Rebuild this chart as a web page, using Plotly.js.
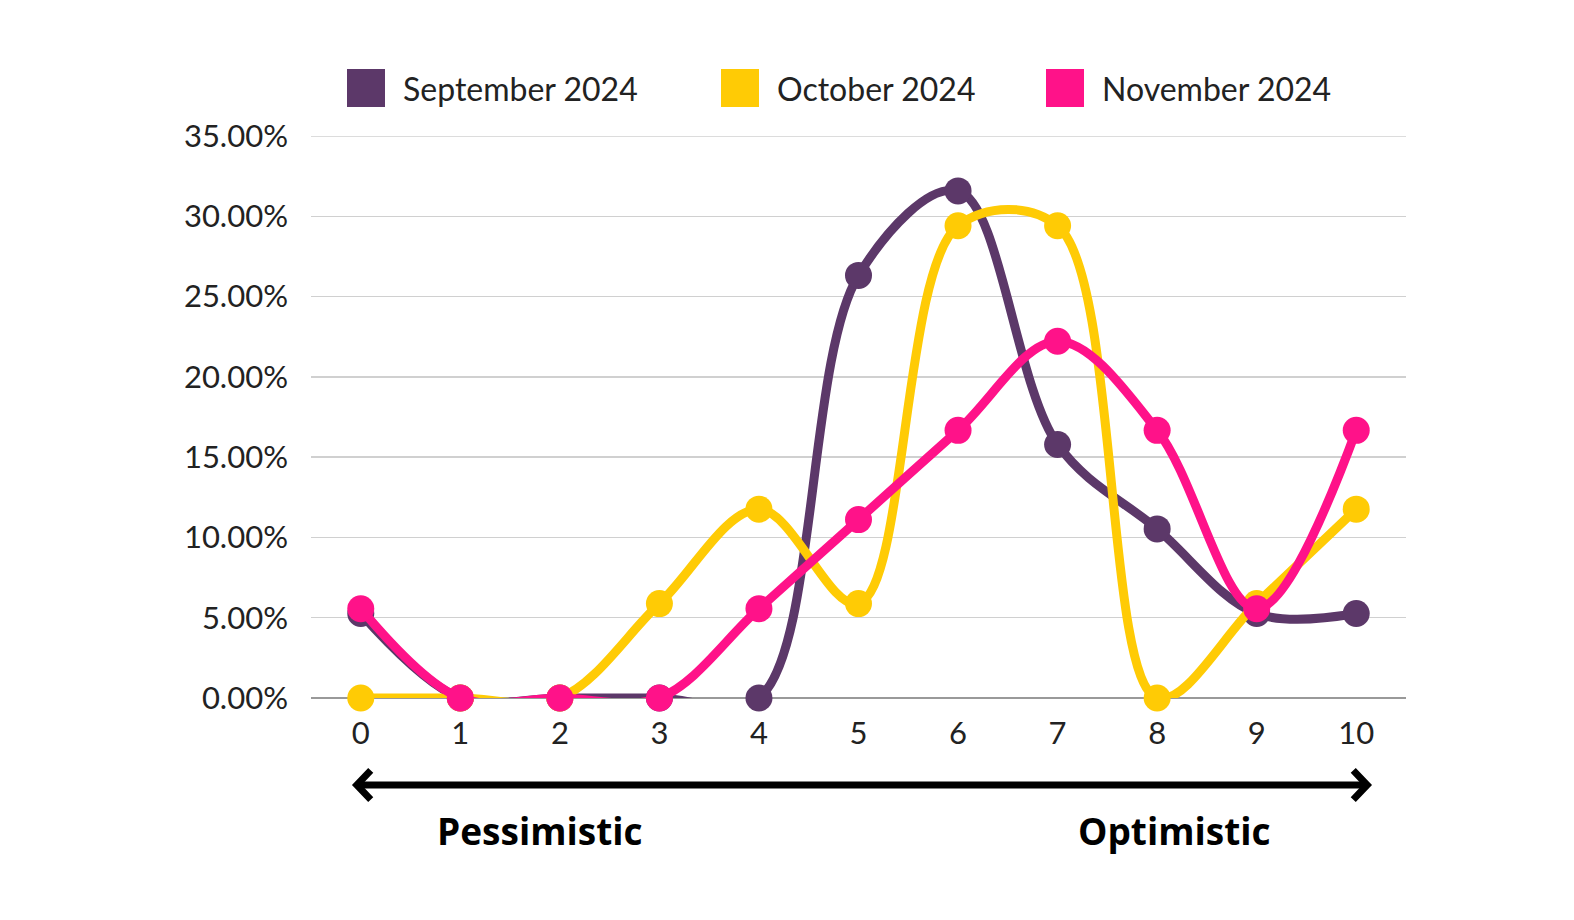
<html>
<head>
    <meta charset="UTF-8">
    <script src="https://cdn.plot.ly/plotly-3.0.1.min.js"></script>
    <style>
        html, body { margin: 0; padding: 0; overflow: hidden; background: #fff; }
        #plot { width: 1574px; height: 920px; }
    </style>
</head>
<body>
    <div id="plot"></div>
    <script>
        // scale 0 (pessimistic) .. 10 (optimistic), share of answers in %
        const scores = [0, 1, 2, 3, 4, 5, 6, 7, 8, 9, 10];
        const september = [5.26, 0, 0, 0, 0, 26.32, 31.58, 15.79, 10.53, 5.26, 5.26];
        const october = [0, 0, 0, 5.88, 11.76, 5.88, 29.41, 29.41, 0, 5.88, 11.76];
        const november = [5.56, 0, 0, 0, 5.56, 11.11, 16.67, 22.22, 16.67, 5.56, 16.67];

        const seriesNames = ['September 2024', 'October 2024', 'November 2024'];
        const seriesColors = ['#5c3869', '#ffcb05', '#ff1289'];
        const yTicks = [0, 5, 10, 15, 20, 25, 30, 35];

        const font = 'Lato, "Noto Sans", sans-serif';

        function trace(y, i) {
            return {
                x: scores,
                y: y,
                name: seriesNames[i],
                type: 'scatter',
                mode: 'lines+markers',
                line: { color: seriesColors[i], width: 9, shape: 'spline', smoothing: 1 },
                marker: { color: seriesColors[i], size: 27 },
                cliponaxis: false,
                showlegend: false
            };
        }

        const data = [trace(september, 0), trace(october, 1), trace(november, 2)];

        // hand-made legend with big square swatches
        const legendX = [347, 721, 1046];
        const shapes = [];
        const annotations = [];
        seriesNames.forEach(function (name, i) {
            shapes.push({
                type: 'rect', xref: 'paper', yref: 'paper',
                x0: (legendX[i] - 311) / 1095, x1: (legendX[i] + 38 - 311) / 1095,
                y0: (698 - 107) / 562, y1: (698 - 69) / 562,
                fillcolor: seriesColors[i], line: { width: 0 }
            });
            annotations.push({
                xref: 'paper', yref: 'paper',
                x: (legendX[i] + 54 - 311) / 1095, y: (698 - 88) / 562,
                xanchor: 'left', yanchor: 'middle', showarrow: false,
                text: name, font: { family: font, size: 32, color: '#222' }
            });
        });

        // top gridline (Plotly drops the one sitting on the range edge)
        shapes.push({
            type: 'line', xref: 'paper', yref: 'y', layer: 'below',
            x0: 0, x1: 1, y0: 35, y1: 35,
            line: { color: '#d0d0d0', width: 1.5 }
        });

        // double-headed arrow under the axis
        const arrowY = (698 - 785) / 562;
        const headW = 0.14, headH = 0.026;
        shapes.push({
            type: 'line', xref: 'x', yref: 'paper',
            x0: -0.04, x1: 10.11, y0: arrowY, y1: arrowY,
            line: { color: '#000', width: 7 }
        });
        shapes.push({
            type: 'path', xref: 'x', yref: 'paper',
            path: 'M ' + (-0.04 + headW) + ' ' + (arrowY + headH) + ' L -0.04 ' + arrowY + ' L ' + (-0.04 + headW) + ' ' + (arrowY - headH),
            line: { color: '#000', width: 7 }
        });
        shapes.push({
            type: 'path', xref: 'x', yref: 'paper',
            path: 'M ' + (10.11 - headW) + ' ' + (arrowY + headH) + ' L 10.11 ' + arrowY + ' L ' + (10.11 - headW) + ' ' + (arrowY - headH),
            line: { color: '#000', width: 7 }
        });
        annotations.push({
            xref: 'x', yref: 'paper', x: 1.8, y: (698 - 830) / 562,
            xanchor: 'center', yanchor: 'middle',
            showarrow: false, text: '<b>Pessimistic</b>',
            font: { family: '"Open Sans", sans-serif', size: 37, color: '#000' }
        });
        annotations.push({
            xref: 'x', yref: 'paper', x: 8.17, y: (698 - 830) / 562,
            xanchor: 'center', yanchor: 'middle',
            showarrow: false, text: '<b>Optimistic</b>',
            font: { family: '"Open Sans", sans-serif', size: 37, color: '#000' }
        });

        const layout = {
            width: 1574,
            height: 920,
            margin: { l: 311, r: 168, t: 136, b: 222 },
            paper_bgcolor: '#fff',
            plot_bgcolor: '#fff',
            showlegend: false,
            font: { family: font, color: '#222' },
            xaxis: {
                range: [-0.5, 10.5],
                tickvals: scores,
                ticktext: scores.map(String),
                showgrid: false,
                zeroline: false,
                showline: false,
                ticks: '',
                automargin: false,
                ticklabelstandoff: 14,
                tickfont: { family: font, size: 31, color: '#222' }
            },
            yaxis: {
                range: [0, 35],
                tickvals: yTicks,
                ticktext: yTicks.map(function (v) { return v.toFixed(2) + '%'; }),
                gridcolor: '#d0d0d0',
                gridwidth: 1.5,
                zeroline: true,
                zerolinecolor: '#999',
                zerolinewidth: 1.5,
                ticks: '',
                automargin: false,
                ticklabelstandoff: 22,
                tickfont: { family: font, size: 31, color: '#222' }
            },
            shapes: shapes,
            annotations: annotations
        };

        Plotly.newPlot('plot', data, layout, { staticPlot: true });
    </script>
</body>
</html>
